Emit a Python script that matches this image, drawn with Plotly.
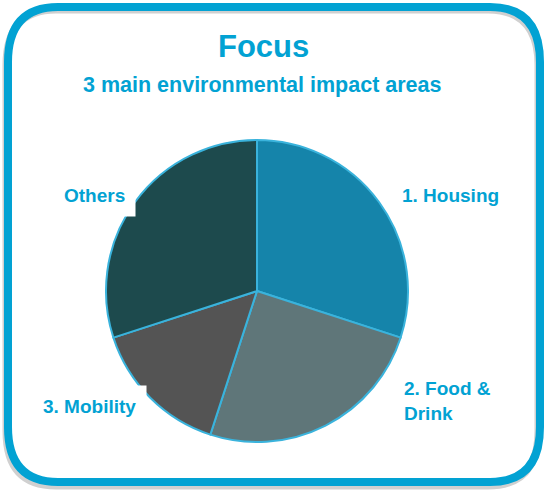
import plotly.graph_objects as go

W, H = 546, 491

categories = ["1. Housing", "2. Food & Drink", "3. Mobility", "Others"]
values = [30, 25, 15, 30]
slice_colors = ["#1584aa", "#5f7679", "#545454", "#1d4a4d"]

title_text = "Focus"
subtitle_text = "3 main environmental impact areas"

BLUE = "#02a2d3"
FONT = "Liberation Sans, Arial, sans-serif"

def px(x):
    return x / W

def py(y):
    return 1 - y / H

# pie geometry (pixel)
cx, cy, r = 257, 291, 151

fig = go.Figure(go.Pie(
    labels=categories,
    values=values,
    sort=False,
    direction="clockwise",
    rotation=0,
    marker=dict(colors=slice_colors, line=dict(color="#3ab3dc", width=2)),
    textinfo="none",
    hoverinfo="label+percent",
    domain=dict(x=[px(cx - r), px(cx + r)], y=[py(cy + r), py(cy - r)]),
    showlegend=False,
))

def rounded_path(x0, y0, x1, y1, rx, ry):
    pts = [
        f"M {px(x0 + rx)} {py(y0)}",
        f"L {px(x1 - rx)} {py(y0)}",
        f"Q {px(x1)} {py(y0)} {px(x1)} {py(y0 + ry)}",
        f"L {px(x1)} {py(y1 - ry)}",
        f"Q {px(x1)} {py(y1)} {px(x1 - rx)} {py(y1)}",
        f"L {px(x0 + rx)} {py(y1)}",
        f"Q {px(x0)} {py(y1)} {px(x0)} {py(y1 - ry)}",
        f"L {px(x0)} {py(y0 + ry)}",
        f"Q {px(x0)} {py(y0)} {px(x0 + rx)} {py(y0)}",
        "Z",
    ]
    return " ".join(pts)

shapes = [
    dict(type="path", xref="paper", yref="paper",
         path=rounded_path(6, 10, 538, 486, 50, 55),
         line=dict(color="#d0d0d0", width=7), layer="below"),
    dict(type="path", xref="paper", yref="paper",
         path=rounded_path(8, 7, 540, 482, 50, 55),
         line=dict(color=BLUE, width=8), layer="below"),
]

common = dict(xref="paper", yref="paper", showarrow=False, yanchor="middle")

annotations = [
    dict(text=f"<b>{title_text}</b>", x=px(263), y=py(47), xanchor="center",
         font=dict(size=31, color=BLUE, family=FONT), **common),
    dict(text=f"<b>{subtitle_text}</b>", x=px(262), y=py(85), xanchor="center",
         font=dict(size=21.5, color=BLUE, family=FONT), **common),
    dict(text="<b>1. Housing</b>", x=px(392), y=py(195),
         xanchor="left", bgcolor="white", borderpad=9,
         font=dict(size=19, color=BLUE, family=FONT), **common),
    dict(text="<b>Others</b>", x=px(136), y=py(195),
         xanchor="right", bgcolor="white", borderpad=10,
         font=dict(size=19, color=BLUE, family=FONT), **common),
    dict(text="<b>3. Mobility</b>", x=px(147), y=py(406),
         xanchor="right", bgcolor="white", borderpad=10,
         font=dict(size=19, color=BLUE, family=FONT), **common),
    dict(text="<b>2. Food &amp;<br>Drink</b>", x=px(398), y=py(401),
         xanchor="left", align="left", bgcolor="white", borderpad=5,
         font=dict(size=19, color=BLUE, family=FONT), **common),
]

fig.update_layout(
    width=W, height=H,
    margin=dict(l=0, r=0, t=0, b=0),
    paper_bgcolor="white", plot_bgcolor="white",
    shapes=shapes, annotations=annotations,
)

fig.write_html("out.html", config={"displayModeBar": False},
               post_script="document.body.style.margin='0';document.body.style.overflow='hidden';")
